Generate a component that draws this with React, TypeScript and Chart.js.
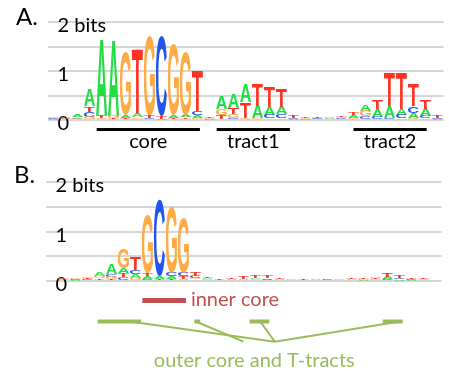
import React, { useEffect, useRef } from 'react';
import { Chart, registerables } from 'chart.js';

Chart.register(...registerables);
Chart.defaults.font.family = 'Lato';

// ---- data ----
const positions = Array.from({ length: 33 }, (_, i) => String(i + 1));
const letters = ['A', 'C', 'G', 'T'];
const letterColors = ['#22dd44', '#2255ee', '#ffaa44', '#ff3322'];

// Panel A (bits per letter, positions 1..33)
const aA = [0.02, 0.03, 0.05, 0.34, 1.55, 1.57, 0.06, 0.07, 0.02, 0.02, 0.05, 0.05, 0.06, 0.02, 0.26, 0.28, 0.36, 0.25, 0.16, 0.15, 0.02, 0.02, 0.01, 0.02, 0.02, 0.05, 0.14, 0.16, 0.24, 0.13, 0.11, 0.15, 0.02];
const aC = [0.02, 0.02, 0.02, 0.10, 0.02, 0.02, 0.02, 0.03, 0.02, 1.64, 0.02, 0.03, 0.08, 0.01, 0.03, 0.05, 0.02, 0.02, 0.08, 0.09, 0.02, 0.01, 0.02, 0.01, 0.02, 0.02, 0.05, 0.05, 0.03, 0.07, 0.13, 0.05, 0.02];
const aG = [0.02, 0.02, 0.03, 0.07, 0.03, 0.04, 1.28, 0.03, 1.63, 0.01, 1.45, 1.29, 0.05, 0.02, 0.12, 0.07, 0.03, 0.02, 0.03, 0.03, 0.01, 0.02, 0.01, 0.02, 0.02, 0.03, 0.12, 0.02, 0.02, 0.03, 0.04, 0.03, 0.01];
const aT = [0.01, 0.01, 0.01, 0.11, 0.05, 0.02, 0.03, 1.33, 0.04, 0.04, 0.03, 0.03, 0.81, 0.02, 0.08, 0.12, 0.31, 0.45, 0.41, 0.38, 0.04, 0.02, 0.02, 0.01, 0.02, 0.06, 0.02, 0.18, 0.68, 0.74, 0.46, 0.18, 0.04];

// Panel B
const bA = [0.01, 0.02, 0.02, 0.02, 0.08, 0.20, 0.09, 0.08, 0.06, 0.04, 0.05, 0.04, 0.03, 0.03, 0.01, 0.02, 0.02, 0.03, 0.03, 0.02, 0.01, 0.01, 0.02, 0.01, 0.01, 0.02, 0.02, 0.03, 0.04, 0.03, 0.02, 0.02, 0.01];
const bC = [0.01, 0.01, 0.02, 0.02, 0.03, 0.06, 0.08, 0.09, 0.05, 1.55, 0.08, 0.08, 0.04, 0.02, 0.01, 0.01, 0.01, 0.02, 0.02, 0.01, 0.01, 0.01, 0.01, 0.02, 0.01, 0.01, 0.01, 0.02, 0.03, 0.03, 0.02, 0.01, 0.01];
const bG = [0.01, 0.02, 0.02, 0.03, 0.05, 0.05, 0.39, 0.06, 1.16, 0.02, 1.33, 1.12, 0.03, 0.02, 0.01, 0.01, 0.01, 0.02, 0.01, 0.01, 0.02, 0.01, 0.01, 0.01, 0.02, 0.01, 0.02, 0.02, 0.02, 0.01, 0.01, 0.01, 0.01];
const bT = [0.01, 0.01, 0.01, 0.02, 0.03, 0.04, 0.08, 0.25, 0.06, 0.03, 0.04, 0.05, 0.07, 0.03, 0.02, 0.02, 0.04, 0.06, 0.05, 0.03, 0.01, 0.02, 0.01, 0.01, 0.01, 0.02, 0.02, 0.02, 0.07, 0.05, 0.03, 0.02, 0.01];

const yTickLabels: Record<string, string> = { '0': '0', '1': '1', '2': '2 bits' };

// Annotations panel A (position ranges, 1-based, fractional)
const regionNames = ['core', 'tract1', 'tract2'];
const regionRanges = [[4.6, 13.2], [14.6, 20.7], [26.0, 32.1]];

// Annotations panel B
const innerCoreLabel = 'inner core';
const innerCoreRange = [8.57, 12.2];
const outerLabel = 'outer core and T-tracts';
const outerRanges = [[4.85, 8.46], [12.9, 13.4], [17.5, 19.15], [28.6, 30.27]];
const outerLineStarts = [7.5, 13.04, 18.4, 30.04];
const outerLineEnds = [19.6, 17.0, 19.6, 19.6];
const outerLabelCenter = 17.9;

// ---- helpers ----
function buildStacks(cols: number[][]) {
  const out = cols.map(() => [] as number[][]);
  for (let j = 0; j < cols[0].length; j++) {
    const order = [0, 1, 2, 3].sort((a, b) => cols[a][j] - cols[b][j]);
    let acc = 0;
    for (const k of order) {
      out[k][j] = [acc, acc + cols[k][j]];
      acc += cols[k][j];
    }
  }
  return out;
}

const glyphCache: Record<string, any> = {};
function drawLetter(ctx: CanvasRenderingContext2D, ch: string, color: string, left: number, top: number, w: number, h: number) {
  ctx.save();
  ctx.font = 'bold 100px "Liberation Sans"';
  ctx.textAlign = 'left';
  ctx.textBaseline = 'alphabetic';
  let m = glyphCache[ch];
  if (!m) {
    const mm = ctx.measureText(ch);
    m = { l: mm.actualBoundingBoxLeft, r: mm.actualBoundingBoxRight, a: mm.actualBoundingBoxAscent, d: mm.actualBoundingBoxDescent };
    glyphCache[ch] = m;
  }
  const gw = m.l + m.r;
  const gh = m.a + m.d;
  ctx.translate(left, top);
  ctx.scale(w / gw, h / gh);
  ctx.fillStyle = color;
  ctx.fillText(ch, m.l, m.a);
  ctx.restore();
}

const logoPlugin = {
  id: 'logoLetters',
  afterDatasetsDraw(chart: any) {
    const ctx = chart.ctx;
    chart.data.datasets.forEach((ds: any, d: number) => {
      const meta = chart.getDatasetMeta(d);
      meta.data.forEach((el: any) => {
        const p = el.getProps(['x', 'y', 'base', 'width'], true);
        const top = Math.min(p.y, p.base);
        const h = Math.abs(p.base - p.y);
        if (h < 0.25) return;
        drawLetter(ctx, ds.label, ds.letterColor, p.x - p.width / 2 + 0.5, top, p.width - 1, h);
      });
    });
  },
};

const panelAPlugin = {
  id: 'panelA',
  afterDraw(chart: any) {
    const ctx = chart.ctx;
    const x = chart.scales.x;
    const b = chart.chartArea.bottom;
    ctx.save();
    ctx.fillStyle = '#000';
    ctx.font = '24px Lato';
    ctx.textAlign = 'left';
    ctx.textBaseline = 'alphabetic';
    ctx.fillText('A.', 16, 25);
    ctx.font = '20px Lato';
    ctx.textAlign = 'center';
    regionRanges.forEach((r, i) => {
      const x0 = x.getPixelForValue(r[0] - 1);
      const x1 = x.getPixelForValue(r[1] - 1);
      ctx.fillRect(x0, b + 8, x1 - x0, 3);
      ctx.fillText(regionNames[i], (x0 + x1) / 2, b + 28);
    });
    ctx.restore();
  },
};

const panelBPlugin = {
  id: 'panelB',
  afterDraw(chart: any) {
    const ctx = chart.ctx;
    const x = chart.scales.x;
    const b = chart.chartArea.bottom;
    const px = (p: number) => x.getPixelForValue(p - 1);
    ctx.save();
    ctx.fillStyle = '#000';
    ctx.font = '24px Lato';
    ctx.textAlign = 'left';
    ctx.fillText('B.', 14, 23);
    // inner core
    ctx.fillStyle = '#c0504d';
    const i0 = px(innerCoreRange[0]);
    const i1 = px(innerCoreRange[1]);
    ctx.fillRect(i0, b + 17, i1 - i0, 5);
    ctx.font = '20px Lato';
    ctx.fillText(innerCoreLabel, i1 + 5, b + 25);
    // outer core and tracts
    ctx.fillStyle = '#9bbb59';
    ctx.strokeStyle = '#9bbb59';
    outerRanges.forEach((r) => {
      const x0 = px(r[0]);
      const x1 = px(r[1]);
      ctx.fillRect(x0, b + 38.5, x1 - x0, 4);
    });
    ctx.lineWidth = 2;
    outerLineStarts.forEach((s, k) => {
      ctx.beginPath();
      ctx.moveTo(px(s), b + 40.5);
      ctx.lineTo(px(outerLineEnds[k]), b + 60.7);
      ctx.stroke();
    });
    ctx.textAlign = 'center';
    ctx.fillText(outerLabel, px(outerLabelCenter), b + 86);
    ctx.restore();
  },
};

function makeConfig(cols: number[][], padding: any, extra: any) {
  const stacks = buildStacks(cols);
  return {
    type: 'bar',
    data: {
      labels: positions,
      datasets: letters.map((l, k) => ({
        label: l,
        letterColor: letterColors[k],
        data: stacks[k],
        backgroundColor: 'rgba(0,0,0,0)',
        borderWidth: 0,
        grouped: false,
        barPercentage: 1,
        categoryPercentage: 1,
      })),
    },
    options: {
      animation: false,
      responsive: false,
      devicePixelRatio: 1,
      layout: { padding },
      plugins: { legend: { display: false }, tooltip: { enabled: false } },
      scales: {
        x: { type: 'category', display: false, offset: true },
        y: {
          min: 0,
          max: 2,
          afterFit: (s: any) => { s.width = 0; },
          border: { display: false },
          grid: { color: '#d6d6d6', lineWidth: 2, drawTicks: false },
          ticks: {
            stepSize: 0.5,
            mirror: true,
            padding: 10,
            labelOffset: 4,
            autoSkip: false,
            color: '#000',
            font: { family: 'Lato', size: 20 },
            callback: (v: any) => yTickLabels[String(v)] ?? '',
          },
        },
      },
    },
    plugins: [logoPlugin, extra],
  };
}

function Logo({ cols, width, height, padding, extra, style }: any) {
  const ref = useRef<HTMLCanvasElement>(null);
  useEffect(() => {
    const chart = new Chart(ref.current as any, makeConfig(cols, padding, extra) as any);
    return () => chart.destroy();
  }, []);
  return <canvas ref={ref} width={width} height={height} style={{ position: 'absolute', display: 'block', width, height, ...style }} />;
}

export default function App() {
  return (
    <div style={{ position: 'fixed', left: 0, top: 0, width: 449, height: 371, background: '#fff', overflow: 'hidden' }}>
      <Logo cols={[aA, aC, aG, aT]} width={449} height={160} padding={{ left: 47.5, right: 5.5, top: 18, bottom: 40 }} extra={panelAPlugin} style={{ left: 0, top: 0 }} />
      <Logo cols={[bA, bC, bG, bT]} width={449} height={211} padding={{ left: 45.5, right: 7.5, top: 19, bottom: 90 }} extra={panelBPlugin} style={{ left: 0, top: 160 }} />
    </div>
  );
}
